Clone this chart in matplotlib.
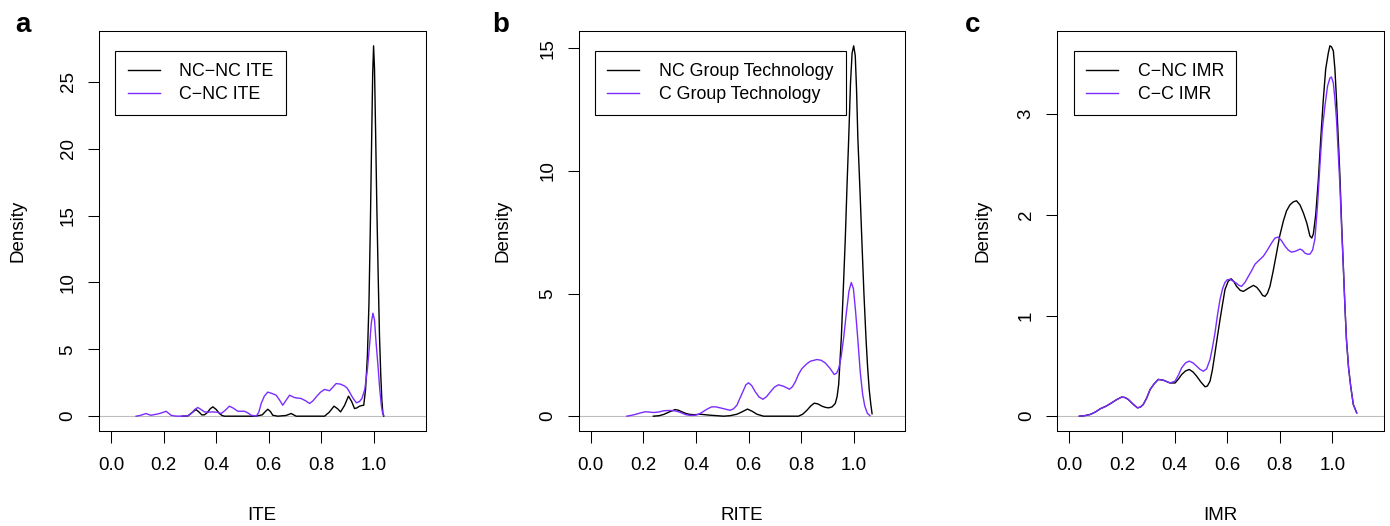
import matplotlib.pyplot as plt

plt.rcParams['font.family'] = ['Liberation Sans', 'DejaVu Sans']

# panel a: ITE densities
ite_nc_x = [0.27, 0.292, 0.31, 0.323, 0.335, 0.345, 0.355, 0.365, 0.377, 0.387, 0.400, 0.412, 0.422, 0.431,
            0.55, 0.575, 0.587, 0.596, 0.606, 0.615, 0.634, 0.665, 0.685, 0.704, 0.75, 0.812, 0.830, 0.848,
            0.862, 0.873, 0.888, 0.903, 0.915, 0.926, 0.935, 0.945, 0.955, 0.961, 0.968, 0.975, 0.981, 0.986,
            0.991, 0.995, 0.9985, 1.002, 1.006, 1.011, 1.016, 1.021, 1.026, 1.030, 1.034, 1.037]
ite_nc_y = [0, 0.02, 0.3, 0.5, 0.3, 0.1, 0.1, 0.25, 0.55, 0.7, 0.5, 0.2, 0.05, 0.0,
            0.0, 0.1, 0.35, 0.52, 0.35, 0.07, 0.0, 0.05, 0.2, 0.0, 0.0, 0.0, 0.3, 0.75,
            0.55, 0.32, 0.8, 1.5, 1.1, 0.57, 0.62, 0.75, 0.8, 0.82, 2.0, 4.5, 8.5, 14,
            20.5, 25.5, 27.7, 26, 21.5, 15.5, 10.5, 6, 3, 1.2, 0.2, 0.0]
ite_c_x = [0.095, 0.110, 0.122, 0.133, 0.143, 0.152, 0.165, 0.178, 0.193, 0.209, 0.220, 0.228, 0.240, 0.254,
           0.292, 0.305, 0.318, 0.330, 0.342, 0.355, 0.370, 0.387, 0.403, 0.419, 0.435, 0.450, 0.465, 0.482,
           0.507, 0.520, 0.533, 0.552, 0.562, 0.571, 0.583, 0.596, 0.612, 0.628, 0.641, 0.653, 0.666, 0.679,
           0.698, 0.723, 0.740, 0.755, 0.768, 0.780, 0.797, 0.812, 0.831, 0.845, 0.856, 0.872, 0.888, 0.898,
           0.907, 0.920, 0.933, 0.945, 0.954, 0.965, 0.975, 0.984, 0.990, 0.996, 1.002, 1.008, 1.016, 1.022,
           1.028, 1.033, 1.037]
ite_c_y = [0, 0.05, 0.13, 0.2, 0.12, 0.07, 0.12, 0.17, 0.25, 0.37, 0.2, 0.07, 0.02, 0,
           0.02, 0.2, 0.5, 0.65, 0.5, 0.32, 0.3, 0.32, 0.3, 0.2, 0.45, 0.75, 0.6, 0.37,
           0.37, 0.25, 0.07, 0, 0.3, 0.95, 1.5, 1.8, 1.7, 1.57, 1.2, 0.82, 1.2, 1.57,
           1.39, 1.32, 1.15, 0.95, 1.15, 1.44, 1.8, 2.0, 1.9, 2.2, 2.44, 2.4, 2.26, 2.1,
           1.8, 1.35, 1.0, 1.1, 1.32, 2.0, 3.5, 5.5, 7.0, 7.7, 7.2, 5.5, 3.6, 2.0,
           0.8, 0.2, 0.05]

# panel b: RITE densities
rite_nc_x = [0.238, 0.26, 0.277, 0.30, 0.321, 0.334, 0.346, 0.362, 0.378, 0.396, 0.416, 0.435, 0.454, 0.480,
             0.505, 0.530, 0.556, 0.576, 0.596, 0.614, 0.632, 0.657, 0.790, 0.806, 0.822, 0.837, 0.850, 0.864,
             0.879, 0.892, 0.905, 0.918, 0.930, 0.937, 0.943, 0.953, 0.961, 0.968, 0.975, 0.981, 0.988, 0.994,
             1.0, 1.006, 1.011, 1.016, 1.024, 1.031, 1.039, 1.047, 1.053, 1.059, 1.065, 1.070]
rite_nc_y = [0, 0.02, 0.07, 0.18, 0.27, 0.24, 0.18, 0.11, 0.07, 0.06, 0.08, 0.06, 0.04, 0.02,
             0.0, 0.02, 0.08, 0.18, 0.29, 0.2, 0.08, 0.0, 0.0, 0.08, 0.24, 0.42, 0.53, 0.5,
             0.41, 0.36, 0.34, 0.38, 0.52, 0.8, 1.3, 3.2, 5.3, 7.2, 9.5, 11.3, 13.6, 14.8,
             15.1, 14.7, 13.3, 11.3, 9.2, 7.2, 5.0, 3.14, 2.0, 1.1, 0.5, 0.1]
rite_c_x = [0.137, 0.152, 0.169, 0.188, 0.207, 0.222, 0.238, 0.258, 0.277, 0.292, 0.308, 0.322, 0.334, 0.346,
            0.359, 0.372, 0.384, 0.397, 0.410, 0.422, 0.435, 0.448, 0.460, 0.476, 0.492, 0.511, 0.530, 0.543,
            0.556, 0.568, 0.581, 0.590, 0.600, 0.612, 0.626, 0.640, 0.655, 0.669, 0.683, 0.698, 0.714, 0.733,
            0.756, 0.767, 0.778, 0.790, 0.803, 0.820, 0.835, 0.860, 0.876, 0.892, 0.910, 0.926, 0.935, 0.943,
            0.952, 0.962, 0.972, 0.982, 0.991, 0.999, 1.007, 1.016, 1.025, 1.034, 1.042, 1.052, 1.062]
rite_c_y = [0, 0.03, 0.07, 0.13, 0.18, 0.17, 0.15, 0.17, 0.22, 0.23, 0.23, 0.21, 0.18, 0.13,
            0.07, 0.04, 0.03, 0.04, 0.08, 0.15, 0.24, 0.32, 0.38, 0.38, 0.34, 0.29, 0.24, 0.3,
            0.45, 0.75, 1.06, 1.28, 1.36, 1.25, 0.99, 0.78, 0.69, 0.8, 0.99, 1.18, 1.28, 1.22,
            1.10, 1.2, 1.40, 1.7, 1.94, 2.12, 2.24, 2.31, 2.28, 2.17, 1.95, 1.70, 1.75, 1.94,
            2.4, 3.2, 4.2, 5.1, 5.45, 5.2, 4.3, 3.1, 1.8, 0.9, 0.42, 0.12, 0.02]

# panel c: IMR densities
imr_nc_x = [0.038, 0.060, 0.079, 0.098, 0.117, 0.140, 0.161, 0.180, 0.199, 0.212, 0.224, 0.242, 0.259, 0.270,
            0.281, 0.294, 0.307, 0.322, 0.338, 0.357, 0.383, 0.402, 0.415, 0.427, 0.442, 0.456, 0.470, 0.484,
            0.500, 0.516, 0.525, 0.535, 0.544, 0.554, 0.563, 0.573, 0.583, 0.592, 0.604, 0.615, 0.625, 0.636,
            0.650, 0.662, 0.680, 0.700, 0.713, 0.725, 0.735, 0.744, 0.753, 0.763, 0.775, 0.788, 0.800, 0.814,
            0.826, 0.839, 0.852, 0.864, 0.877, 0.890, 0.903, 0.915, 0.922, 0.928, 0.937, 0.947, 0.956, 0.966,
            0.975, 0.985, 0.991, 0.997, 1.004, 1.010, 1.016, 1.022, 1.029, 1.035, 1.042, 1.048, 1.054, 1.062,
            1.070, 1.080, 1.093]
imr_nc_y = [0, 0.006, 0.017, 0.04, 0.073, 0.10, 0.133, 0.165, 0.19, 0.185, 0.166, 0.12, 0.083, 0.09,
            0.116, 0.18, 0.265, 0.32, 0.365, 0.358, 0.33, 0.33, 0.37, 0.414, 0.45, 0.464, 0.44, 0.398,
            0.34, 0.292, 0.30, 0.348, 0.46, 0.63, 0.79, 0.96, 1.12, 1.26, 1.34, 1.365, 1.34, 1.29,
            1.25, 1.24, 1.27, 1.30, 1.28, 1.24, 1.20, 1.19, 1.22, 1.29, 1.44, 1.62, 1.79, 1.94,
            2.04, 2.10, 2.13, 2.14, 2.10, 2.02, 1.92, 1.79, 1.77, 1.81, 2.0, 2.35, 2.75, 3.15,
            3.45, 3.61, 3.68, 3.67, 3.63, 3.45, 3.15, 2.8, 2.39, 1.95, 1.49, 1.10, 0.76, 0.48,
            0.30, 0.116, 0.033]
imr_c_x = [0.038, 0.060, 0.079, 0.098, 0.117, 0.140, 0.161, 0.180, 0.199, 0.212, 0.224, 0.242, 0.259, 0.270,
           0.281, 0.294, 0.307, 0.322, 0.338, 0.357, 0.383, 0.402, 0.415, 0.427, 0.442, 0.456, 0.470, 0.484,
           0.497, 0.510, 0.522, 0.535, 0.544, 0.554, 0.563, 0.573, 0.583, 0.592, 0.600, 0.611, 0.624, 0.636,
           0.645, 0.655, 0.668, 0.681, 0.694, 0.706, 0.722, 0.738, 0.753, 0.769, 0.782, 0.795, 0.808, 0.820,
           0.833, 0.845, 0.861, 0.877, 0.886, 0.896, 0.905, 0.915, 0.925, 0.934, 0.944, 0.953, 0.962, 0.972,
           0.982, 0.991, 0.997, 1.004, 1.010, 1.016, 1.022, 1.029, 1.035, 1.042, 1.048, 1.054, 1.062, 1.070,
           1.080, 1.093]
imr_c_y = [0, 0.006, 0.017, 0.04, 0.073, 0.10, 0.133, 0.165, 0.19, 0.185, 0.166, 0.12, 0.083, 0.09,
           0.116, 0.18, 0.265, 0.32, 0.365, 0.358, 0.33, 0.348, 0.41, 0.48, 0.53, 0.547, 0.53, 0.497,
           0.465, 0.447, 0.47, 0.563, 0.68, 0.83, 1.0, 1.16, 1.27, 1.33, 1.355, 1.36, 1.34, 1.32,
           1.30, 1.29, 1.33, 1.39, 1.45, 1.51, 1.55, 1.59, 1.65, 1.72, 1.77, 1.78, 1.74, 1.69,
           1.65, 1.63, 1.64, 1.66, 1.65, 1.62, 1.61, 1.61, 1.65, 1.76, 2.1, 2.49, 2.85, 3.08,
           3.28, 3.36, 3.37, 3.31, 3.15, 2.95, 2.65, 2.29, 1.90, 1.49, 1.10, 0.76, 0.48, 0.30,
           0.116, 0.033]

panels = [
    dict(letter="a", xlabel="ITE", yticks=[0, 5, 10, 15, 20, 25],
         series=[(ite_nc_x, ite_nc_y, "NC\u2212NC ITE"), (ite_c_x, ite_c_y, "C\u2212NC ITE")]),
    dict(letter="b", xlabel="RITE", yticks=[0, 5, 10, 15],
         series=[(rite_nc_x, rite_nc_y, "NC Group Technology"), (rite_c_x, rite_c_y, "C Group Technology")]),
    dict(letter="c", xlabel="IMR", yticks=[0, 1, 2, 3],
         series=[(imr_nc_x, imr_nc_y, "C\u2212NC IMR"), (imr_c_x, imr_c_y, "C\u2212C IMR")]),
]
xticks = [0.0, 0.2, 0.4, 0.6, 0.8, 1.0]
colors = ["black", "#7A2CFF"]

W, H = 1390, 526
fig = plt.figure(figsize=(W / 100, H / 100), dpi=100)

# pixel layout of the three plot boxes
ax_left = [99, 578.7, 1057.3]
ax_w = 326.5
ax_top, ax_bot = 31, 431
ylab_x = [17.7, 503.3, 983.3]
letter_x = [15, 492.7, 965]

for i, p in enumerate(panels):
    ax = fig.add_axes([ax_left[i] / W, 1 - ax_bot / H, ax_w / W, (ax_bot - ax_top) / H])
    ax.axhline(0, color="#BEBEBE", lw=0.8, zorder=1)
    for (x, y, lab), c in zip(p["series"], colors):
        ax.plot(x, y, color=c, lw=1.0, label=lab, zorder=2)
    ymax = max(max(s[1]) for s in p["series"])
    ax.set_ylim(-0.04 * ymax, 1.04 * ymax)
    ax.set_xlim(-0.046, 1.196)
    ax.set_xticks(xticks)
    ax.set_xticklabels(["%.1f" % t for t in xticks])
    ax.set_yticks(p["yticks"])
    ax.set_yticklabels([str(t) for t in p["yticks"]], rotation=90, va="center")
    ax.tick_params(axis="x", length=8.6, width=0.75, pad=10, labelsize=13.5)
    ax.tick_params(axis="y", length=7.9, width=0.75, pad=8.3, labelsize=13.5)
    for s in ax.spines.values():
        s.set_linewidth(0.75)
    leg = ax.legend(loc="upper left", bbox_to_anchor=(0.05, 0.95), borderaxespad=0,
                    fontsize=12.8, handlelength=1.8, handletextpad=1.1, borderpad=0.7,
                    labelspacing=0.3, fancybox=False, framealpha=1, edgecolor="black")
    leg.get_frame().set_linewidth(0.8)

    cx = (ax_left[i] + ax_w / 2) / W
    fig.text(cx, 6 / H, p["xlabel"], ha="center", va="baseline", fontsize=13.5)
    fig.text(ylab_x[i] / W, 1 - 231 / H, "Density", rotation=90, ha="center", va="center", fontsize=13.5)
    fig.text(letter_x[i] / W, 1 - 32.3 / H, p["letter"], ha="left", va="baseline",
             fontsize=20, fontweight="bold")

fig.savefig("out.png", dpi=100)
